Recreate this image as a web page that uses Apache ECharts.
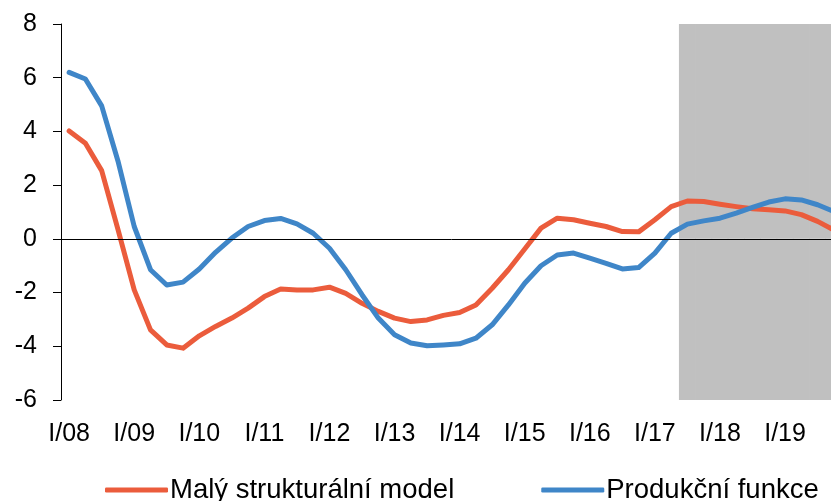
<!DOCTYPE html>
<html>
<head>
<meta charset="utf-8">
<script src="https://cdn.jsdelivr.net/npm/echarts@6/dist/echarts.min.js"></script>
<style>
html,body{margin:0;padding:0;background:#fff;overflow:hidden;}
#chart{width:850px;height:501px;}
</style>
</head>
<body>
<div id="chart"></div>
<script>
const categories = [
  'I/08','II/08','III/08','IV/08','I/09','II/09','III/09','IV/09',
  'I/10','II/10','III/10','IV/10','I/11','II/11','III/11','IV/11',
  'I/12','II/12','III/12','IV/12','I/13','II/13','III/13','IV/13',
  'I/14','II/14','III/14','IV/14','I/15','II/15','III/15','IV/15',
  'I/16','II/16','III/16','IV/16','I/17','II/17','III/17','IV/17',
  'I/18','II/18','III/18','IV/18','I/19','II/19','III/19','IV/19'
];
const malyStrukturalniModel = [
  4.02, 3.56, 2.54, 0.35, -1.9, -3.39, -3.95, -4.07,
  -3.61, -3.26, -2.95, -2.58, -2.15, -1.87, -1.9, -1.9,
  -1.8, -2.03, -2.4, -2.7, -2.95, -3.08, -3.02, -2.85,
  -2.74, -2.46, -1.84, -1.15, -0.38, 0.4, 0.77, 0.71,
  0.58, 0.46, 0.27, 0.26, 0.71, 1.2, 1.41, 1.39,
  1.29, 1.2, 1.12, 1.08, 1.04, 0.9, 0.65, 0.33
];
const produkcniFunkce = [
  6.2, 5.95, 4.95, 2.9, 0.46, -1.15, -1.72, -1.61,
  -1.12, -0.5, 0.03, 0.46, 0.68, 0.76, 0.56, 0.21,
  -0.35, -1.15, -2.08, -2.95, -3.57, -3.88, -3.98, -3.95,
  -3.91, -3.7, -3.2, -2.46, -1.65, -1.0, -0.6, -0.53,
  -0.72, -0.91, -1.12, -1.07, -0.53, 0.21, 0.55, 0.67,
  0.77, 0.96, 1.17, 1.37, 1.49, 1.45, 1.27, 1.02
];
const yTicks = { min: -6, max: 8, interval: 2 };
const forecastStart = 'III/17';
const shadeTopValue = 8;
const shadeBottomValue = -6;

const startIdx = categories.indexOf(forecastStart);
const shadeTop = categories.map((c, i) => i >= startIdx ? shadeTopValue : null);
const shadeBottom = categories.map((c, i) => i >= startIdx ? shadeBottomValue : null);

const RED = '#EB5C3C';
const BLUE = '#3F86C8';
const GRAY = '#C0C0C0';
const FONT = 'Liberation Sans, Arial, sans-serif';

const chart = echarts.init(document.getElementById('chart'), null, { renderer: 'canvas' });
chart.setOption({
  animation: false,
  backgroundColor: '#fff',
  grid: { left: 61, top: 24, height: 376, width: 781, containLabel: false, outerBoundsMode: 'none' },
  legend: {
    data: [
      { name: 'Malý strukturální model', icon: 'roundRect' },
      { name: 'Produkční funkce', icon: 'roundRect' }
    ],
    left: 100, top: 471,
    itemWidth: 63, itemHeight: 5, itemGap: 87,
    textStyle: { fontFamily: FONT, fontSize: 27.5, color: '#000', padding: [0, 0, 0, -3] }
  },
  xAxis: {
    type: 'category',
    data: categories,
    boundaryGap: true,
    axisLine: { show: false },
    axisTick: { show: false },
    axisLabel: { interval: 3, margin: 22, fontFamily: FONT, fontSize: 25, color: '#000' },
    splitLine: { show: false }
  },
  yAxis: {
    type: 'value',
    min: yTicks.min, max: yTicks.max, interval: yTicks.interval,
    axisLine: { show: true, onZero: false, lineStyle: { color: '#000', width: 1 } },
    axisTick: { show: true, inside: false, length: 8, lineStyle: { color: '#000', width: 1 } },
    axisLabel: { margin: 24, fontFamily: FONT, fontSize: 25, color: '#000' },
    splitLine: { show: false }
  },
  series: [
    {
      name: 'shadeTop', type: 'bar', stack: 'shade', data: shadeTop,
      barWidth: 17, barGap: '-100%', silent: true,
      itemStyle: { color: GRAY }, z: 1
    },
    {
      name: 'shadeBottom', type: 'bar', stack: 'shade', data: shadeBottom,
      barWidth: 17, barGap: '-100%', silent: true,
      itemStyle: { color: GRAY }, z: 1,
      markLine: {
        silent: true, symbol: ['none', 'none'],
        label: { show: false },
        lineStyle: { color: '#000', width: 1, type: 'solid' },
        data: [{ yAxis: 0 }]
      }
    },
    {
      name: 'Malý strukturální model', type: 'line', data: malyStrukturalniModel,
      symbol: 'none', smooth: false, z: 3,
      lineStyle: { color: RED, width: 5, cap: 'round', join: 'round' },
      itemStyle: { color: RED }
    },
    {
      name: 'Produkční funkce', type: 'line', data: produkcniFunkce,
      symbol: 'none', smooth: false, z: 4,
      lineStyle: { color: BLUE, width: 5, cap: 'round', join: 'round' },
      itemStyle: { color: BLUE }
    }
  ]
});
</script>
</body>
</html>
